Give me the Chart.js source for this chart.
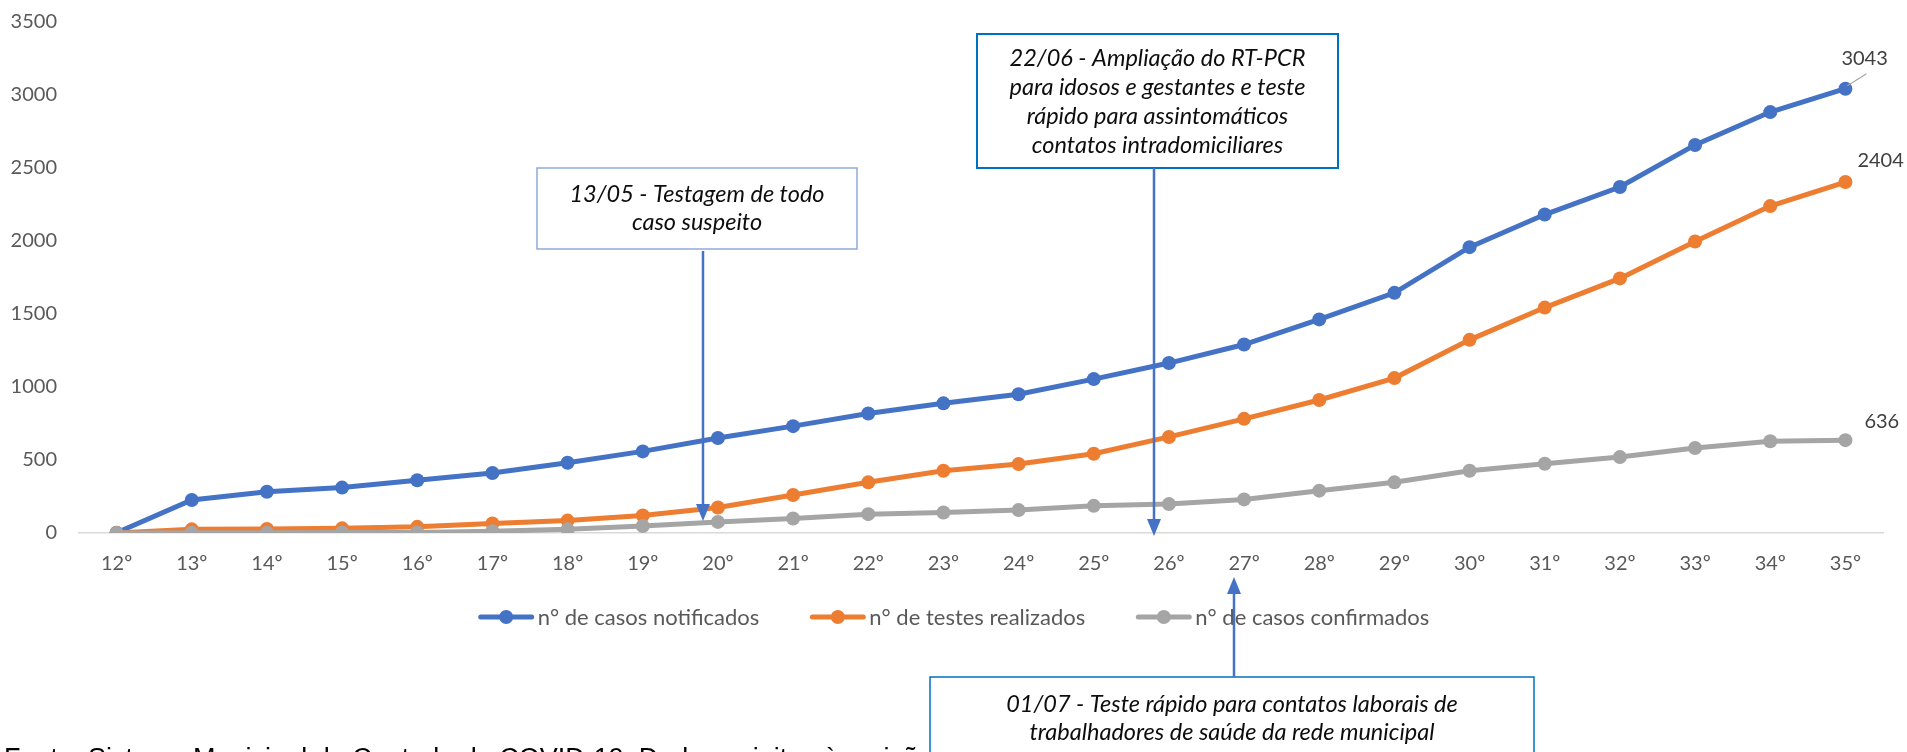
<!doctype html>
<html>
<head>
<meta charset="utf-8">
<title>Casos notificados, testes realizados e casos confirmados</title>
<script src="https://cdn.jsdelivr.net/npm/chart.js@4.4.1/dist/chart.umd.min.js"></script>
<style>
	html, body { margin: 0; padding: 0; background: #fff; }
	#container { width: 1907px; height: 752px; position: relative; overflow: hidden; }
</style>
</head>
<body>
<div id="container">
	<canvas id="canvas" width="1907" height="752"></canvas>
</div>
<script>

	// semanas epidemiologicas
	var semanas = ['12º', '13º', '14º', '15º', '16º', '17º', '18º', '19º', '20º', '21º', '22º', '23º',
		'24º', '25º', '26º', '27º', '28º', '29º', '30º', '31º', '32º', '33º', '34º', '35º'];

	var casosNotificados = [2, 226, 283, 311, 361, 411, 481, 559, 651, 732, 819, 888,
		950, 1054, 1164, 1291, 1463, 1645, 1958, 2181, 2370, 2658, 2883, 3043];

	var testesRealizados = [0, 25, 28, 32, 42, 65, 85, 120, 175, 260, 347, 426,
		472, 543, 658, 782, 911, 1061, 1323, 1544, 1744, 1997, 2239, 2404];

	var casosConfirmados = [0, 1, 2, 3, 4, 12, 25, 48, 76, 99, 129, 140,
		157, 186, 198, 230, 290, 347, 426, 474, 520, 582, 628, 636];

	var nomesSeries = ['n° de casos notificados', 'n° de testes realizados', 'n° de casos confirmados'];
	var coresSeries = ['#4472C4', '#ED7D31', '#A5A5A5'];

	var eixoY = { min: 0, max: 3500, passo: 500 };

	var fonte = 'Fonte: Sistema Municipal de Controle do COVID-19. Dados sujeitos à revisão';

	// caixas de texto (marcos da testagem)
	var notas = [
		{ linhas: ['13/05 - Testagem de todo', 'caso suspeito'],
		  box: [537, 168, 320, 81], borda: '#8FAADC', lw: 1.5, y0: 194, dy: 28,
		  seta: { x: 703, de: 251, ate: 521 } },
		{ linhas: ['22/06 - Ampliação do RT-PCR', 'para idosos e gestantes e teste',
			'rápido para assintomáticos', 'contatos intradomiciliares'],
		  box: [977, 34, 361, 134], borda: '#0070C0', lw: 2, y0: 58, dy: 29,
		  seta: { x: 1154, de: 168, ate: 536 } },
		{ linhas: ['01/07 - Teste rápido para contatos laborais de',
			'trabalhadores de saúde da rede municipal'],
		  box: [930, 677, 604, 120], borda: '#0070C0', lw: 1.5, y0: 704, dy: 28,
		  seta: { x: 1234, de: 677, ate: 577 } }
	];

	// deslocamento dos rotulos do ultimo ponto
	var rotulosFim = [
		{ dx: -4, dy: -30, guia: true },
		{ dx: 12, dy: -21, guia: false },
		{ dx: 19, dy: -19, guia: false }
	];

	var extras = {
		id: 'extras',
		afterDatasetsDraw: function(chart) {
			var ctx = chart.ctx;
			ctx.save();
			// rotulos de valor no ultimo ponto
			ctx.font = '20px Lato';
			ctx.fillStyle = '#404040';
			ctx.textAlign = 'left';
			ctx.textBaseline = 'middle';
			chart.data.datasets.forEach(function(ds, i) {
				var meta = chart.getDatasetMeta(i);
				var n = ds.data.length - 1;
				var pt = meta.data[n];
				var r = rotulosFim[i];
				if (r.guia) {
					ctx.strokeStyle = '#A6A6A6';
					ctx.lineWidth = 1.2;
					ctx.beginPath();
					ctx.moveTo(pt.x + 2, pt.y - 3);
					ctx.lineTo(pt.x + 21, pt.y - 15);
					ctx.stroke();
				}
				ctx.fillText(String(ds.data[n]), pt.x + r.dx, pt.y + r.dy);
			});
			ctx.restore();
		},
		afterDraw: function(chart) {
			var ctx = chart.ctx;
			ctx.save();

			// legenda
			ctx.font = '22px Lato';
			ctx.textBaseline = 'middle';
			ctx.textAlign = 'left';
			var amostra = 57, gapTxt = 3, gapItem = 50;
			var larg = chart.data.datasets.map(function(ds) { return ctx.measureText(ds.label).width; });
			var total = 0;
			larg.forEach(function(w) { total += amostra + gapTxt + w; });
			total += gapItem * (larg.length - 1);
			var x = (chart.width - total) / 2, y = 617;
			chart.data.datasets.forEach(function(ds, i) {
				ctx.strokeStyle = ds.borderColor;
				ctx.lineWidth = 5;
				ctx.lineCap = 'round';
				ctx.beginPath();
				ctx.moveTo(x + 3, y);
				ctx.lineTo(x + amostra - 3, y);
				ctx.stroke();
				ctx.fillStyle = ds.borderColor;
				ctx.beginPath();
				ctx.arc(x + amostra / 2, y, 7, 0, Math.PI * 2);
				ctx.fill();
				ctx.fillStyle = '#595959';
				ctx.fillText(ds.label, x + amostra + gapTxt, y + 1);
				x += amostra + gapTxt + larg[i] + gapItem;
			});

			// fonte (cortada na borda inferior)
			ctx.font = '27px "Liberation Sans"';
			ctx.fillStyle = '#000';
			ctx.textBaseline = 'alphabetic';
			ctx.fillText(fonte, 4, 767);

			// caixas e setas
			notas.forEach(function(nt) {
				var b = nt.box;
				ctx.fillStyle = '#fff';
				ctx.fillRect(b[0], b[1], b[2], b[3]);
				ctx.strokeStyle = nt.borda;
				ctx.lineWidth = nt.lw;
				ctx.strokeRect(b[0], b[1], b[2], b[3]);
				ctx.font = 'italic 23.5px Lato';
				ctx.fillStyle = '#0D0D0D';
				ctx.textAlign = 'center';
				ctx.textBaseline = 'middle';
				nt.linhas.forEach(function(l, k) {
					ctx.fillText(l, b[0] + b[2] / 2, nt.y0 + k * nt.dy);
				});

				var s = nt.seta;
				var dir = s.ate > s.de ? 1 : -1;
				ctx.strokeStyle = '#4472C4';
				ctx.fillStyle = '#4472C4';
				ctx.lineWidth = 2.5;
				ctx.lineCap = 'butt';
				ctx.beginPath();
				ctx.moveTo(s.x, s.de);
				ctx.lineTo(s.x, s.ate - dir * 14);
				ctx.stroke();
				ctx.beginPath();
				ctx.moveTo(s.x, s.ate);
				ctx.lineTo(s.x - 7, s.ate - dir * 17);
				ctx.lineTo(s.x + 7, s.ate - dir * 17);
				ctx.closePath();
				ctx.fill();
			});
			ctx.restore();
		}
	};

	function criaGrafico() {
		var series = [casosNotificados, testesRealizados, casosConfirmados];
		var datasets = series.map(function(valores, i) {
			return {
				label: nomesSeries[i],
				data: valores,
				borderColor: coresSeries[i],
				backgroundColor: coresSeries[i],
				pointBackgroundColor: coresSeries[i],
				pointBorderWidth: 0,
				borderWidth: 5,
				pointRadius: 7,
				pointHoverRadius: 7,
				tension: 0,
				order: series.length - i
			};
		});

		var ctx = document.getElementById('canvas').getContext('2d');
		window.grafico = new Chart(ctx, {
			type: 'line',
			data: { labels: semanas, datasets: datasets },
			options: {
				responsive: false,
				animation: false,
				devicePixelRatio: 1,
				layout: { padding: { left: 0, right: 24, top: 22, bottom: 169 } },
				plugins: {
					legend: { display: false },
					tooltip: { enabled: false },
					title: { display: false }
				},
				scales: {
					x: {
						offset: true,
						grid: { display: false, drawTicks: false },
						border: { display: true, color: '#D9D9D9', width: 1.5 },
						ticks: {
							padding: 19, color: '#595959', autoSkip: false, maxRotation: 0,
							font: { family: 'Lato', size: 20 }
						},
						afterFit: function(scale) { scale.height = 50; }
					},
					y: {
						min: eixoY.min,
						max: eixoY.max,
						grid: { display: false, drawTicks: true, tickLength: 22 },
						border: { display: false },
						ticks: {
							stepSize: eixoY.passo, padding: 0, color: '#595959',
							font: { family: 'Lato', size: 20 },
							callback: function(v) { return String(v); }
						},
						afterFit: function(scale) { scale.width = 79; }
					}
				}
			},
			plugins: [extras]
		});
	}

	criaGrafico();

</script>
</body>
</html>
